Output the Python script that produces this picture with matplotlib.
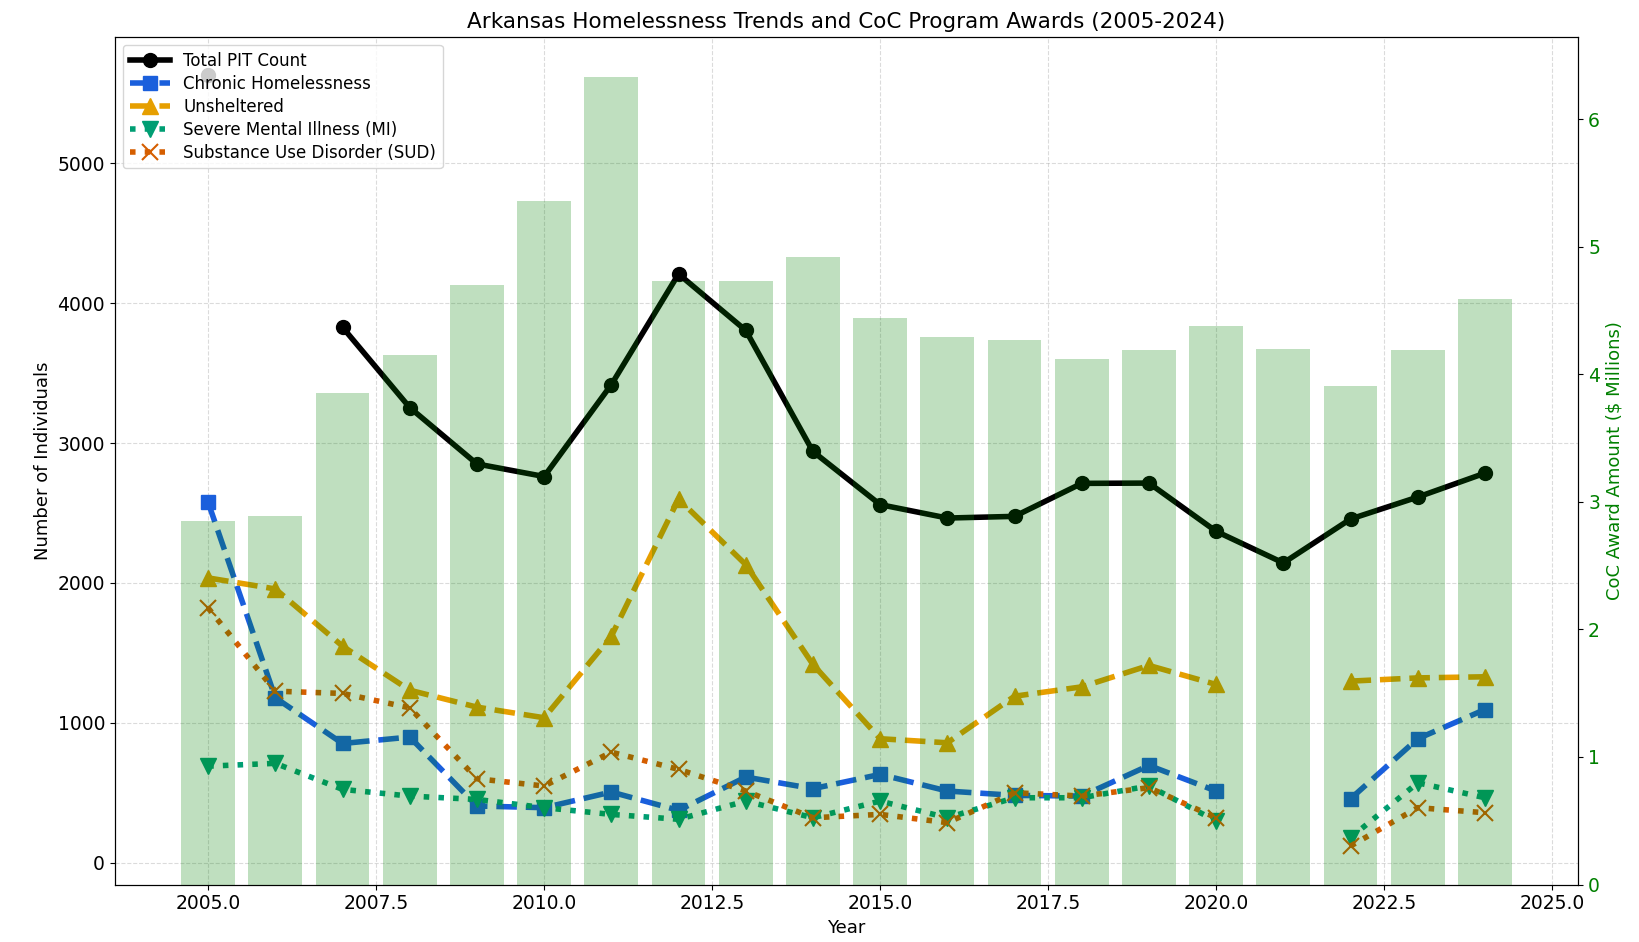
import numpy as np
import matplotlib.pyplot as plt

nan = np.nan

years = list(range(2005, 2025))

# point-in-time counts (left axis)
total_pit = [5630, nan, 3828, 3254, 2851, 2761, 3418, 4209, 3806, 2940,
             2560, 2464, 2476, 2712, 2714, 2369, 2143, 2457, 2614, 2785]
chronic = [2576, 1179, 852, 898, 405, 393, 505, 374, 612, 529,
           631, 512, 481, 476, 695, 512, nan, 457, 886, 1095]
unsheltered = [2036, 1957, 1548, 1233, 1112, 1036, 1619, 2600, 2131, 1417,
               886, 857, 1190, 1257, 1410, 1274, nan, 1298, 1321, 1329]
mental_illness = [690, 710, 524, 476, 452, 393, 345, 310, 440, 321,
                  440, 321, 464, 464, 548, 298, nan, 179, 571, 464]
substance_use = [1821, 1226, 1210, 1107, 600, 548, 790, 667, 512, 321,
                 345, 286, 500, 476, 536, 321, nan, 119, 393, 357]

# CoC awards, $ millions (right axis)
awards = [2.85, 2.89, 3.85, 4.15, 4.70, 5.36, 6.33, 4.73, 4.73, 4.92,
          4.44, 4.29, 4.27, 4.12, 4.19, 4.38, 4.20, 3.91, 4.19, 4.59]

fig, ax = plt.subplots(figsize=(16.39, 9.42), dpi=100)
fig.subplots_adjust(left=0.070, right=0.963, top=0.961, bottom=0.061)

ax.plot(years, total_pit, color='black', lw=4, marker='o', ms=10, label='Total PIT Count')
ax.plot(years, chronic, color='#1a5fdc', lw=4, ls='--', marker='s', ms=10,
        label='Chronic Homelessness')
ax.plot(years, unsheltered, color='#e69f00', lw=4, ls='--', marker='^', ms=11,
        label='Unsheltered')
ax.plot(years, mental_illness, color='#009e73', lw=4, ls=':', marker='v', ms=11,
        label='Severe Mental Illness (MI)')
ax.plot(years, substance_use, color='#d55e00', lw=4, ls=':', marker='x', ms=11,
        mew=1.5, label='Substance Use Disorder (SUD)')

ax.set_xlabel('Year', fontsize=13)
ax.set_ylabel('Number of Individuals', fontsize=13)
ax.tick_params(labelsize=13.5)
ax.grid(True, linestyle='--', alpha=0.45)
ax.legend(loc='upper left', fontsize=12, labelspacing=0.3, handlelength=2.4)

# awards as bars on a twin axis
ax2 = ax.twinx()
ax2.bar(years, awards, width=0.8, color='green', alpha=0.25)
ax2.set_ylabel('CoC Award Amount ($ Millions)', color='green', fontsize=13)
ax2.tick_params(axis='y', labelcolor='green', labelsize=13.5)

ax.set_title('Arkansas Homelessness Trends and CoC Program Awards (2005-2024)', fontsize=15.5)

plt.savefig('out.png')
